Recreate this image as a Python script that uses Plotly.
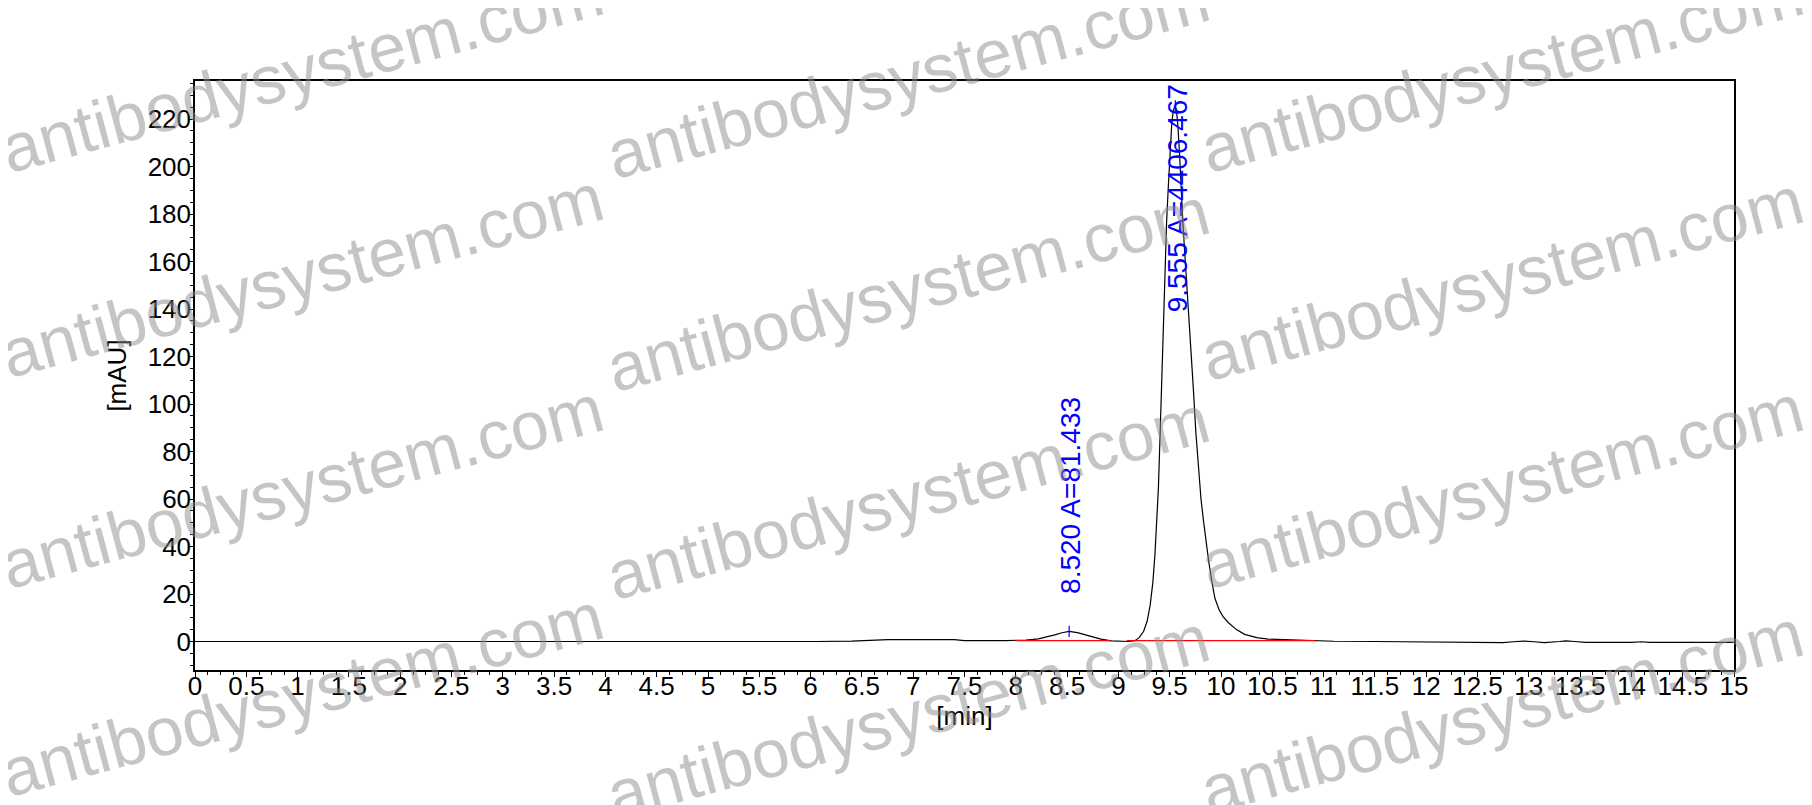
import plotly.graph_objects as go

# chromatogram trace (min, mAU)
time_min = [0.0, 5.25, 5.3, 6.0, 6.05, 6.4, 6.75, 7.4, 7.5, 7.9, 8.0, 8.1, 8.22, 8.3,
            8.38, 8.45, 8.52, 8.6, 8.67, 8.75, 8.83, 8.93, 9.0, 9.1, 9.16, 9.2, 9.245,
            9.28, 9.31, 9.336, 9.356, 9.375, 9.39, 9.405, 9.42, 9.435, 9.447, 9.46,
            9.47, 9.486, 9.5, 9.52, 9.535, 9.55, 9.565, 9.58, 9.595, 9.61, 9.63, 9.655,
            9.68, 9.705, 9.73, 9.755, 9.78, 9.805, 9.83, 9.855, 9.88, 9.91, 9.94, 9.98,
            10.02, 10.07, 10.15, 10.23, 10.35, 10.46, 10.6, 10.75, 10.9, 11.05, 11.1,
            11.5, 12.44, 12.5, 12.75, 12.85, 12.95, 13.05, 13.15, 13.3, 13.36, 13.45,
            13.55, 14.0, 14.1, 14.18, 15.0]
signal_mau = [0.0, 0.0, -0.3, -0.3, 0.0, 0.2, 0.8, 0.8, 0.4, 0.4, 0.4, 0.6, 1.1, 1.8,
              2.8, 3.7, 4.3, 3.7, 2.8, 1.8, 1.0, 0.3, 0.1, 0.0, 0.3, 1.5, 4.2,
              8.5, 15.4, 25.0, 36.5, 50.0, 64.7, 85.0, 106.8, 128.0, 149.0, 165.0,
              177.0, 191.0, 205.0, 218.0, 223.5, 225.5, 224.0, 217.0, 206.0, 191.0, 175.0, 158.0,
              142.0, 124.0, 106.8, 88.0, 71.7, 60.0, 50.6, 41.5, 33.8, 25.5, 18.3, 13.5,
              10.5, 8.0, 5.0, 3.0, 1.6, 1.0, 0.8, 0.7, 0.6, 0.4, 0.1,
              0.0, -0.3, -0.6, -0.5, -0.1, 0.2, -0.1, -0.5, 0.0, 0.3, 0.0,
              -0.4, -0.4, -0.1, -0.4, -0.4]

# integration baselines (red)
base_start_t = [8.0, 9.08]
base_end_t = [8.92, 10.92]
base_start_v = [0.4, 0.4]
base_end_v = [0.4, 0.4]

# peaks
peak_rt = [8.52, 9.555]
peak_top = [4.3, 225.5]
peak_area = ["81.433", "4406.467"]
peak_rt_txt = ["8.520", "9.555"]

x_ticks = [i * 0.5 for i in range(31)]
x_tick_text = ["0", "0.5", "1", "1.5", "2", "2.5", "3", "3.5", "4", "4.5", "5", "5.5",
               "6", "6.5", "7", "7.5", "8", "8.5", "9", "9.5", "10", "10.5", "11",
               "11.5", "12", "12.5", "13", "13.5", "14", "14.5", "15"]
y_ticks = [0, 20, 40, 60, 80, 100, 120, 140, 160, 180, 200, 220]

y_range = [-12, 236]

fig = go.Figure()

fig.add_trace(go.Scatter(x=time_min, y=signal_mau, mode="lines",
                         line=dict(color="black", width=1.2), showlegend=False))

for t0, t1, v0, v1 in zip(base_start_t, base_end_t, base_start_v, base_end_v):
    fig.add_trace(go.Scatter(x=[t0, t1], y=[v0, v1], mode="lines",
                             line=dict(color="red", width=1.2), showlegend=False))

# little blue marks at apex
fig.add_trace(go.Scatter(x=peak_rt, y=peak_top, mode="markers",
                         marker=dict(symbol="line-ns", size=8,
                                     line=dict(color="blue", width=1.2)),
                         showlegend=False))

plot_h = 805 - 73 - 143
px_per_unit = plot_h / (y_range[1] - y_range[0])
lbl_font = dict(color="blue", size=28, family="Liberation Sans")
for rt, top, area, rtt in zip(peak_rt, peak_top, peak_area, peak_rt_txt):
    label = rtt + " A=" + area
    label_len = len(label) * 15
    room = (y_range[1] - top) * px_per_unit - 35
    if room > label_len:
        fig.add_annotation(x=rt, y=top, text=label, textangle=-90, showarrow=False,
                           xanchor="center", yanchor="bottom", yshift=35, xshift=2,
                           font=lbl_font)
    else:
        fig.add_annotation(x=rt, y=1, yref="paper", text=label, textangle=-90,
                           showarrow=False, xanchor="center", yanchor="top",
                           yshift=-1, xshift=2, font=lbl_font)

# watermark (tiled, partly cut at the page edges like the original)
wm_x = [294, 900, 1494]
wm_y = [[62, 267, 478, 686], [68, 281, 489, 708], [62, 270, 478, 703]]
for cx, col in zip(wm_x, wm_y):
    for cy in col:
        fig.add_annotation(x=(cx - 187) / 1539, y=(662 - cy) / plot_h,
                           xref="paper", yref="paper", text="antibodysystem.com",
                           textangle=-15, showarrow=False,
                           xanchor="center", yanchor="middle",
                           font=dict(color="rgba(140,140,140,0.5)", size=68,
                                     family="Liberation Sans"))

axis_font = dict(family="Liberation Sans", size=26, color="black")
fig.update_layout(
    width=1812, height=805,
    margin=dict(l=187, r=86, t=73, b=143),
    paper_bgcolor="white", plot_bgcolor="white",
    font=axis_font,
    xaxis=dict(range=[0, 15], tickvals=x_ticks, ticktext=x_tick_text,
               showgrid=False, zeroline=False, showline=True, mirror=True,
               linecolor="black", linewidth=1.5, ticks="outside", ticklen=5,
               tickcolor="black", tickfont=axis_font, ticklabelstandoff=-13,
               minor=dict(dtick=0.125, ticks="outside", ticklen=3, tickcolor="black"),
               title=dict(text="[min]", font=axis_font, standoff=2)),
    yaxis=dict(range=y_range, tickvals=y_ticks, showgrid=False, zeroline=False,
               showline=True, mirror=True, linecolor="black", linewidth=1.5,
               ticks="outside", ticklen=4, tickcolor="black", tickfont=axis_font,
               ticklabelstandoff=-7,
               minor=dict(dtick=5, ticks="outside", ticklen=3, tickcolor="black"),
               title=dict(text="[mAU]", font=axis_font, standoff=14)),
)

fig.write_html("out.html")
